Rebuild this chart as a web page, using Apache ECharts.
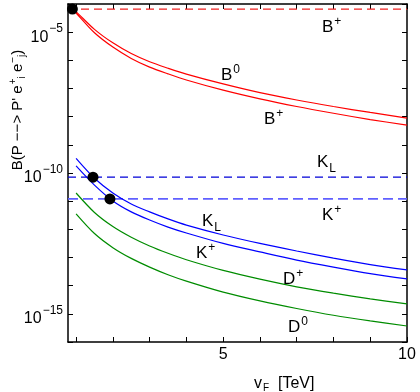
<!DOCTYPE html>
<html><head><meta charset="utf-8">
<script src="https://cdn.jsdelivr.net/npm/echarts@6/dist/echarts.min.js"></script>
<style>html,body{margin:0;padding:0;background:#fff}#c{width:420px;height:392px}</style>
</head><body><div id="c"></div><script>
// ---- data ----
const vF_red = [0.9, 1, 1.5, 2, 2.5, 3, 3.5, 4, 5, 6, 7, 8, 9, 10];
const B0_curve = [6.92e-5, 5.37e-5, 1.26e-5, 4.17e-6, 1.74e-6, 8.9e-7, 5.25e-7, 3.24e-7, 1.45e-7, 7.1e-8, 3.9e-8, 2.29e-8, 1.41e-8, 8.9e-9];
const Bp_curve = [6.6e-5, 4.79e-5, 9.5e-6, 2.95e-6, 1.17e-6, 5.75e-7, 3.31e-7, 2.0e-7, 8.7e-8, 4.27e-8, 2.29e-8, 1.32e-8, 7.9e-9, 5.0e-9];
const vF = [1, 1.5, 2, 2.5, 3, 3.5, 4, 5, 6, 7, 8, 9, 10];
const KL_curve = [3.3e-10, 6.5e-11, 1.95e-11, 7.9e-12, 4.17e-12, 2.34e-12, 1.41e-12, 6.3e-13, 3.16e-13, 1.70e-13, 9.5e-14, 5.6e-14, 3.63e-14];
const Kp_curve = [1.78e-10, 3.7e-11, 1.02e-11, 4.17e-12, 2.14e-12, 1.20e-12, 7.4e-13, 3.16e-13, 1.58e-13, 8.1e-14, 4.57e-14, 2.69e-14, 1.74e-14];
const Dp_curve = [1.95e-11, 3.98e-12, 1.26e-12, 5.25e-13, 2.57e-13, 1.41e-13, 8.3e-14, 3.47e-14, 1.70e-14, 9.1e-15, 5.4e-15, 3.39e-15, 2.24e-15];
const D0_curve = [3.55e-12, 7.1e-13, 2.24e-13, 9.3e-14, 4.57e-14, 2.45e-14, 1.45e-14, 5.9e-15, 2.88e-15, 1.55e-15, 8.9e-16, 5.6e-16, 3.7e-16];
const bound_B = 6.6e-5, bound_KL = 7.1e-11, bound_Kp = 1.2e-11;
const dotsX = [0.9, 1.46, 1.92];
const dotsY = [6.6e-5, 7.1e-11, 1.2e-11];
const xRange = [0.78, 10];
const yRange = [1e-16, 1e-4];
const xTickValues = [1, 2, 3, 4, 5, 6, 7, 8, 9, 10];
const xLabelValues = [5, 10];
const yLabelExponents = [-5, -10, -15];

// ---- chart ----
const FF = '"Liberation Sans", Arial, Helvetica, sans-serif';
const chart = echarts.init(document.getElementById('c'), null, {renderer: 'canvas'});
const pairs = (xs, ys) => xs.map((x, i) => [x, ys[i]]);
const hline = v => [[xRange[0], v], [xRange[1], v]];
const RED = '#ff0000', BLUE = '#0000ff', GREEN = '#008c00';

function curve(data, color) {
  return {type: 'line', data, smooth: 0.3, showSymbol: false, symbol: 'none', silent: true,
    lineStyle: {color, width: 1.2}, z: 3};
}
function dashed(v, color, width, dash) {
  return {type: 'line', data: hline(v), showSymbol: false, symbol: 'none', silent: true,
    lineStyle: {color, width, type: dash}, z: 2};
}
const axisLineStyle = {color: '#000', width: 1.5};
const tickStyle = {color: '#000', width: 1};

const labelDefs = [
  {t: '{m|B}{p|+}', x: 322, y: 27},
  {t: '{m|B}{p|0}', x: 221, y: 75},
  {t: '{m|B}{p|+}', x: 264, y: 119},
  {t: '{m|K}{s|L}', x: 317, y: 162},
  {t: '{m|K}{p|+}', x: 322, y: 215},
  {t: '{m|K}{s|L}', x: 202, y: 221},
  {t: '{m|K}{p|+}', x: 196, y: 253},
  {t: '{m|D}{p|+}', x: 283, y: 279},
  {t: '{m|D}{p|0}', x: 288, y: 327}
];
const labRich = {
  m: {fontSize: 17, fontFamily: FF, color: '#000'},
  p: {fontSize: 12, fontFamily: FF, color: '#000', padding: [0, 0, 11, 1]},
  s: {fontSize: 12, fontFamily: FF, color: '#000', padding: [14, 0, 0, 1]}
};

const option = {
  animation: false,
  backgroundColor: '#fff',
  grid: {left: 68, right: 13, top: 4, bottom: 50, containLabel: false},
  xAxis: [
    {type: 'value', min: xRange[0], max: xRange[1], position: 'bottom',
      axisLine: {show: true, onZero: false, lineStyle: axisLineStyle},
      axisTick: {show: true, inside: true, length: 5, customValues: xTickValues, lineStyle: tickStyle},
      axisLabel: {show: true, customValues: xLabelValues, color: '#000', fontSize: 16, fontFamily: FF, margin: 5},
      splitLine: {show: false}},
    {type: 'value', min: xRange[0], max: xRange[1], position: 'top',
      axisLine: {show: true, onZero: false, lineStyle: axisLineStyle},
      axisTick: {show: true, inside: true, length: 5, customValues: xTickValues, lineStyle: tickStyle},
      axisLabel: {show: false}, splitLine: {show: false}}
  ],
  yAxis: [
    {type: 'log', logBase: 10, min: yRange[0], max: yRange[1], interval: 1, position: 'left',
      axisLine: {show: true, onZero: false, lineStyle: axisLineStyle},
      axisTick: {show: true, inside: true, length: 5, lineStyle: tickStyle},
      axisLabel: {show: true, margin: 5, color: '#000',
        formatter: v => {
          const e = Math.round(Math.log10(v));
          return yLabelExponents.includes(e) ? '{b|10}{s|\u2212' + (-e) + '}' : '';
        },
        rich: {
          b: {fontSize: 16, fontFamily: FF, color: '#000', padding: [10, 0, 0, 0]},
          s: {fontSize: 12, fontFamily: FF, color: '#000', padding: [0, 0, 6, 1]}
        }},
      splitLine: {show: false}, minorTick: {show: false}},
    {type: 'log', logBase: 10, min: yRange[0], max: yRange[1], interval: 1, position: 'right',
      axisLine: {show: true, onZero: false, lineStyle: axisLineStyle},
      axisTick: {show: true, inside: true, length: 5, lineStyle: tickStyle},
      axisLabel: {show: false}, splitLine: {show: false}}
  ],
  series: [
    dashed(bound_B, '#f02020', 1.2, [8, 5]),
    dashed(bound_KL, '#0000d8', 1.2, [8, 5]),
    dashed(bound_Kp, '#6060ff', 1.8, [10, 5]),
    curve(pairs(vF_red, B0_curve), RED),
    curve(pairs(vF_red, Bp_curve), RED),
    curve(pairs(vF, KL_curve), BLUE),
    curve(pairs(vF, Kp_curve), BLUE),
    curve(pairs(vF, Dp_curve), GREEN),
    curve(pairs(vF, D0_curve), GREEN),
    {type: 'scatter', data: pairs(dotsX, dotsY), symbol: 'circle', symbolSize: 11, silent: true,
      itemStyle: {color: '#000', opacity: 1}, z: 5}
  ],
  graphic: [
    ...labelDefs.map(d => ({type: 'text', x: d.x, y: d.y, silent: true, z: 10,
      style: {text: d.t, rich: labRich, verticalAlign: 'middle', align: 'left'}})),
    {type: 'text', x: 254, y: 384, silent: true, z: 10,
      style: {text: '{m|v}{s|F}{m|  [TeV]}', verticalAlign: 'middle', align: 'left',
        rich: {m: {fontSize: 16, fontFamily: FF, color: '#000'},
               s: {fontSize: 10, fontFamily: FF, color: '#000', padding: [8, 0, 0, 1]}}}},
    {type: 'text', x: 18, y: 110, rotation: Math.PI / 2, silent: true, z: 10,
      style: {text: '{m|B(P \u2212\u2212> P\' e}{p|+}{s|i}{m| e}{p|\u2212}{s|j}{m|)}',
        verticalAlign: 'middle', align: 'center',
        rich: {m: {fontSize: 15, fontFamily: FF, color: '#000'},
               p: {fontSize: 10, fontFamily: FF, color: '#000', padding: [0, 0, 10, 1]},
               s: {fontSize: 10, fontFamily: FF, color: '#000', padding: [8, 0, 0, 0]}}}}
  ]
};
chart.setOption(option);
</script></body></html>
